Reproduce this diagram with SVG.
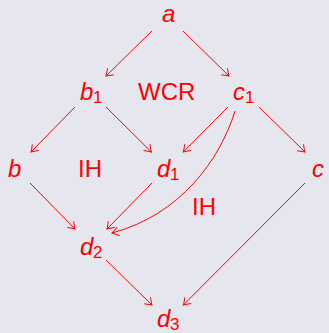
<svg xmlns="http://www.w3.org/2000/svg" width="329" height="333" viewBox="0 0 329 333">
<defs>
<style>
.bg{fill:#e6e7ee}
.t{fill:#ff0000;font-family:"Liberation Sans",Arial,sans-serif;font-size:24px}
.m{font-style:italic}
.s{font-size:17px;font-style:normal}
.e{fill:none;stroke:#ff0000;stroke-width:1}
</style>
<marker id="ah" markerUnits="userSpaceOnUse" markerWidth="14" markerHeight="14" viewBox="-8 -7 10 14" refX="0" refY="0" orient="auto">
<path d="M-6.5,-4.5 Q-2,-1 0,0 Q-2,1 -6.5,4.5" fill="none" stroke="#ff0000" stroke-width="1"/>
</marker>
</defs>
<rect class="bg" x="0" y="0" width="329" height="333"/>
<g id="connectors">
<line class="e" x1="152" y1="31" x2="106" y2="76" marker-end="url(#ah)"/>
<line class="e" x1="183" y1="31" x2="229" y2="76" marker-end="url(#ah)"/>
<line class="e" x1="75" y1="107" x2="31" y2="152" marker-end="url(#ah)"/>
<line class="e" x1="106" y1="107" x2="151.4" y2="152" marker-end="url(#ah)"/>
<line class="e" x1="228" y1="107" x2="183.3" y2="152" marker-end="url(#ah)"/>
<line class="e" x1="259" y1="107" x2="305" y2="152" marker-end="url(#ah)"/>
<path class="e" d="M235,111 C220,160 180,215 112,233" marker-end="url(#ah)"/>
<line class="e" x1="30" y1="183" x2="75" y2="229" marker-end="url(#ah)"/>
<line class="e" x1="152" y1="183" x2="107" y2="229" marker-end="url(#ah)"/>
<line class="e" x1="305" y1="183" x2="183.4" y2="305" marker-end="url(#ah)"/>
<line class="e" x1="106" y1="260" x2="152" y2="305" marker-end="url(#ah)"/>
</g>
<g id="node-a"><text class="t m" x="162" y="22">a</text></g>
<g id="node-b1"><text class="t m" x="80" y="100">b<tspan class="s" x="93" y="103">1</tspan></text></g>
<g id="label-wcr"><text class="t" x="138" y="100">WCR</text></g>
<g id="node-c1"><text class="t m" x="233" y="100">c<tspan class="s" x="245" y="103">1</tspan></text></g>
<g id="node-b"><text class="t m" x="8" y="177">b</text></g>
<g id="label-ih1"><text class="t" x="78" y="177">IH</text></g>
<g id="node-d1"><text class="t m" x="157" y="177">d<tspan class="s" x="170" y="180">1</tspan></text></g>
<g id="node-c"><text class="t m" x="312" y="177">c</text></g>
<g id="label-ih2"><text class="t" x="192" y="215">IH</text></g>
<g id="node-d2"><text class="t m" x="80" y="255">d<tspan class="s" x="93" y="258">2</tspan></text></g>
<g id="node-d3"><text class="t m" x="157" y="327">d<tspan class="s" x="170" y="330">3</tspan></text></g>
</svg>
